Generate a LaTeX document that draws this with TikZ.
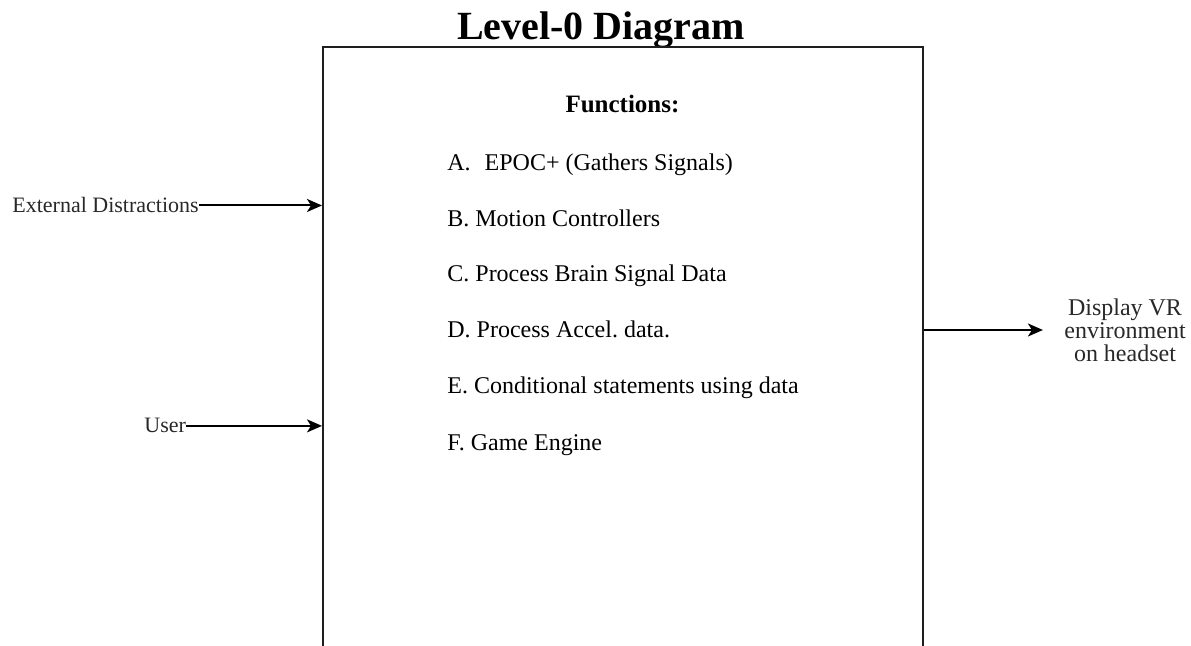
\documentclass[tikz,border=0pt]{standalone}
\usepackage{fontspec}
\setmainfont{Liberation Serif}
\usetikzlibrary{arrows.meta}
\definecolor{labelgray}{RGB}{40,40,40}
\definecolor{framegray}{RGB}{30,30,30}
\frenchspacing
\begin{document}
\begin{tikzpicture}[x=0.5pt,y=-0.5pt,
  sysbox/.style={draw=framegray, line width=1pt, inner sep=0pt,
                 minimum width=300pt, minimum height=356.5pt},
  sidelabel/.style={text=labelgray, inner sep=0pt, font=\fontsize{11}{13}\selectfont},
  funcitem/.style={anchor=base west, inner sep=0pt, font=\fontsize{12}{14}\selectfont},
  conn/.style={-{Stealth[length=7.5pt,width=6.5pt,inset=2pt]}, line width=1pt, draw=black}]
\useasboundingbox (0,0) rectangle (1191,646);
\clip (0,0) rectangle (1191,646);

% title
\node (title) [anchor=base, inner sep=0pt, font=\bfseries\fontsize{20}{24}\selectfont]
  at (601,40) {Level-0 Diagram};

% system box (runs past the lower edge)
\node (sys) [sysbox] at (623,403.5) {};

% function list
\node (fhead) [anchor=base, inner sep=0pt, font=\bfseries\fontsize{12.5}{15}\selectfont]
  at (622.5,113) {Functions:};
\node (fa) [funcitem] at (447,170.5) {A.\hspace{7pt}EPOC+ (Gathers Signals)};
\node (fb) [funcitem] at (447,226.5) {B. Motion Controllers};
\node (fc) [funcitem] at (447,282) {C. Process Brain Signal Data};
\node (fd) [funcitem] at (447,338) {D. Process Accel. data.};
\node (fe) [funcitem] at (447,394) {E. Conditional statements using data};
\node (ff) [funcitem] at (447,450.5) {F. Game Engine};

% inputs
\node (ext) [sidelabel, anchor=base west] at (12,213) {External Distractions};
\node (user) [sidelabel, anchor=base west] at (144,433) {User};

% output
\node (disp) [sidelabel, align=center, inner xsep=10.5pt,
  font=\fontsize{12}{11.5}\selectfont] at (1125,330)
  {Display VR\\environment\\on headset};

% connectors
\draw[conn] (ext.east) -- (ext.east -| sys.west);
\draw[conn] (user.east) -- (user.east -| sys.west);
\draw[conn] (disp.west -| sys.east) -- (disp.west);
\end{tikzpicture}
\end{document}
